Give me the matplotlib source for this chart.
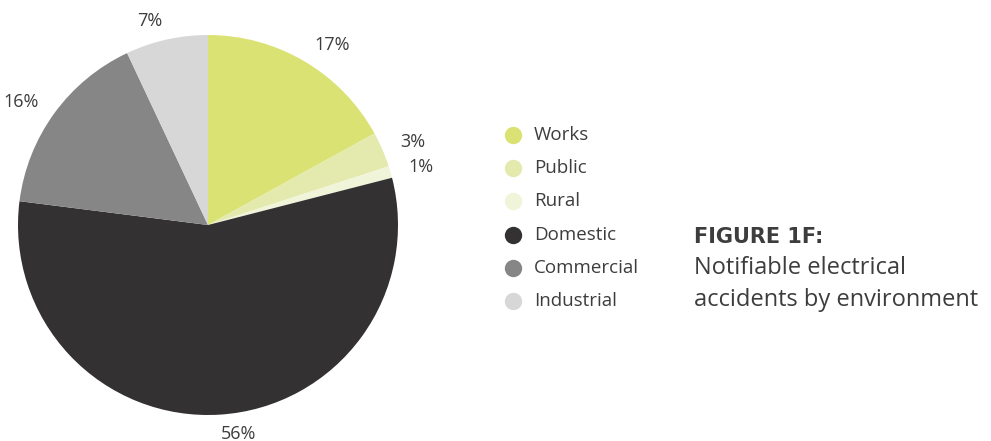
import matplotlib.pyplot as plt

# data
labels = ["Works", "Public", "Rural", "Domestic", "Commercial", "Industrial"]
shares = [17, 3, 1, 56, 16, 7]
colors = ["#dbe274", "#e4eaad", "#f0f4d8", "#333132", "#868686", "#d7d7d7"]

plt.rcParams['font.family'] = ['Open Sans', 'DejaVu Sans']
text_col = "#3d3d3d"

fig = plt.figure(figsize=(9.91, 4.41), dpi=100)

# pie in its own axes, center ~ (208,225) px, radius ~190 px
ax = fig.add_axes([18/991, 26/441, 380/991, 380/441])
ax.pie(shares, colors=colors, startangle=90, counterclock=False,
       labels=[f"{s}%" for s in shares], labeldistance=1.1,
       textprops={"fontsize": 13, "color": text_col},
       wedgeprops={"linewidth": 0})
ax.set_xlim(-1, 1)
ax.set_ylim(-1, 1)
ax.set_aspect('equal')

# overlay in pixel coordinates for legend and caption
ov = fig.add_axes([0, 0, 1, 1])
ov.set_xlim(0, 991)
ov.set_ylim(441, 0)
ov.axis('off')

for i, (lab, col) in enumerate(zip(labels, colors)):
    y = 135 + i * 33.2
    ov.plot(513, y, 'o', ms=12.5, color=col, mec='none')
    ov.text(534, y, lab, fontsize=13.5, color=text_col, va='center', ha='left')

ov.text(694, 237, "FIGURE 1F:", fontsize=15, fontweight='bold', family='DejaVu Sans',
        color=text_col, va='center')
ov.text(694, 268, "Notifiable electrical", fontsize=17, color=text_col, va='center')
ov.text(694, 300, "accidents by environment", fontsize=17, color=text_col, va='center')

fig.savefig("out.png", dpi=100)
